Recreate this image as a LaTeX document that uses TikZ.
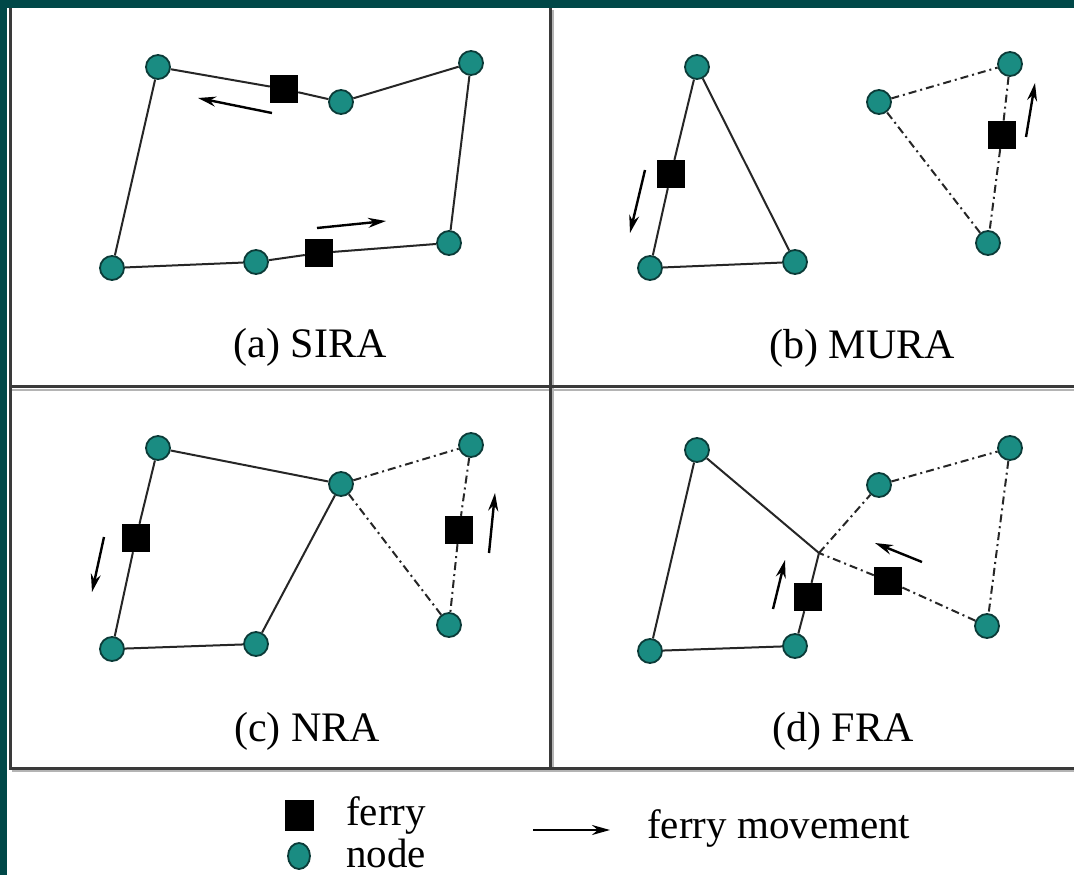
\documentclass[tikz,border=0pt]{standalone}
\usepackage{fontspec}
\setmainfont{Liberation Serif}
\usetikzlibrary{arrows.meta,shapes.geometric}
\definecolor{bandteal}{HTML}{004848}
\definecolor{nodeteal}{HTML}{1A8C82}
\definecolor{nodeedge}{HTML}{0B3B38}
\definecolor{framegray}{HTML}{3A3A3A}
\definecolor{shadegray}{HTML}{B4B4B4}
\tikzset{
  sensor/.style={circle,fill=nodeteal,draw=nodeedge,line width=1.8pt,minimum size=24pt,inner sep=0pt},
  ferrybox/.style={rectangle,fill=black,minimum size=28pt,inner sep=0pt},
  route/.style={line width=2pt,draw=black!85},
  altroute/.style={line width=2pt,draw=black!85,dash pattern=on 8pt off 4pt on 2pt off 4pt},
  movement/.style={line width=2.4pt,-{Stealth[length=18pt,width=10pt]}},
  caption/.style={font=\fontsize{42}{48}\selectfont,inner sep=0pt},
  legendtext/.style={font=\fontsize{41}{46}\selectfont,inner sep=0pt,anchor=west},
  frameline/.style={line width=3pt,draw=framegray},
  shadeline/.style={line width=2pt,draw=shadegray}
}
\begin{document}
\begin{tikzpicture}[x=1pt,y=-1pt]
\useasboundingbox (0,0) rectangle (1074,875);
\fill[white] (0,0) rectangle (1074,875);

% panel frame with a light shadow line
\draw[shadeline] (12,390) -- (1074,390);
\draw[shadeline] (12,771) -- (1074,771);
\draw[shadeline] (553,10) -- (553,768);
\draw[frameline] (10,8) -- (10,768) -- (1074,768);
\draw[frameline] (10,386) -- (1074,386);
\draw[frameline] (550,8) -- (550,768);

% outer band
\fill[bandteal] (0,0) rectangle (7,875);
\fill[bandteal] (0,0) rectangle (1074,8);

% ---------- (a) SIRA ----------
\node[sensor] (a1) at (158,67) {};
\node[sensor] (a2) at (341,102) {};
\node[sensor] (a3) at (471,63) {};
\node[sensor] (a4) at (449,243) {};
\node[sensor] (a5) at (256,262) {};
\node[sensor] (a6) at (112,268) {};
\node[ferrybox] (af1) at (284,89) {};
\node[ferrybox] (af2) at (319,253) {};
\draw[route] (a1) -- (af1) -- (a2) -- (a3) -- (a4) -- (af2) -- (a5) -- (a6) -- (a1);
\coordinate (am1s) at (272,113); \coordinate (am1e) at (198,98);
\coordinate (am2s) at (317,228); \coordinate (am2e) at (386,221);
\draw[movement] (am1s) -- (am1e);
\draw[movement] (am2s) -- (am2e);
\node[caption] (acap) at (310,347) {(a) SIRA};

% ---------- (b) MURA ----------
\node[sensor] (b1) at (697,67) {};
\node[sensor] (b2) at (650,268) {};
\node[sensor] (b3) at (795,262) {};
\node[ferrybox] (bf1) at (671,174) {};
\draw[route] (b1) -- (bf1) -- (b2) -- (b3) -- (b1);
\node[sensor] (b4) at (879,102) {};
\node[sensor] (b5) at (1010,64) {};
\node[sensor] (b6) at (988,243) {};
\node[ferrybox] (bf2) at (1002,135) {};
\draw[altroute] (b4) -- (b5) -- (bf2) -- (b6) -- (b4);
\coordinate (bm1s) at (645,170); \coordinate (bm1e) at (630,233);
\coordinate (bm2s) at (1026,137); \coordinate (bm2e) at (1035,83);
\draw[movement] (bm1s) -- (bm1e);
\draw[movement] (bm2s) -- (bm2e);
\node[caption] (bcap) at (862,348) {(b) MURA};

% ---------- (c) NRA ----------
\node[sensor] (c1) at (158,448) {};
\node[sensor] (c2) at (341,484) {};
\node[sensor] (c3) at (471,445) {};
\node[sensor] (c4) at (112,649) {};
\node[sensor] (c5) at (256,644) {};
\node[sensor] (c6) at (449,625) {};
\node[ferrybox] (cf1) at (136,538) {};
\node[ferrybox] (cf2) at (459,530) {};
\draw[route] (c1) -- (cf1) -- (c4) -- (c5) -- (c2) -- (c1);
\draw[altroute] (c2) -- (c3) -- (cf2) -- (c6) -- (c2);
\coordinate (cm1s) at (104,537); \coordinate (cm1e) at (92,592);
\coordinate (cm2s) at (489,553); \coordinate (cm2e) at (495,493);
\draw[movement] (cm1s) -- (cm1e);
\draw[movement] (cm2s) -- (cm2e);
\node[caption] (ccap) at (307,731) {(c) NRA};

% ---------- (d) FRA ----------
\node[sensor] (d1) at (697,450) {};
\node[sensor] (d2) at (650,651) {};
\node[sensor] (d3) at (795,646) {};
\node[sensor] (d4) at (879,485) {};
\node[sensor] (d5) at (1010,448) {};
\node[sensor] (d6) at (987,626) {};
\coordinate (dx) at (819,553);
\node[ferrybox] (df1) at (808,597) {};
\node[ferrybox] (df2) at (888,581) {};
\draw[route] (d1) -- (d2) -- (d3) -- (df1) -- (dx) -- (d1);
\draw[altroute] (dx) -- (d4) -- (d5) -- (d6) -- (df2) -- (dx);
\coordinate (dm1s) at (773,609); \coordinate (dm1e) at (785,560);
\coordinate (dm2s) at (922,562); \coordinate (dm2e) at (875,543);
\draw[movement] (dm1s) -- (dm1e);
\draw[movement] (dm2s) -- (dm2e);
\node[caption] (dcap) at (843,731) {(d) FRA};

% ---------- legend ----------
\node[ferrybox,minimum width=29pt,minimum height=31pt] (lf) at (299,815) {};
\node[legendtext] (lft) at (346,815) {ferry};
\node[sensor,ellipse,minimum width=22pt,minimum height=26pt] (ln) at (299,856) {};
\node[legendtext] (lnt) at (346,853) {node};
\coordinate (lms) at (533,830);
\coordinate (lme) at (610,830);
\draw[movement] (lms) -- (lme);
\node[legendtext] (lmt) at (647,828) {ferry movement};
\end{tikzpicture}
\end{document}
